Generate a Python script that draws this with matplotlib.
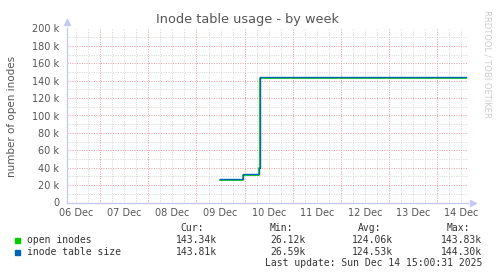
from datetime import datetime, timedelta

import matplotlib
matplotlib.use('Agg')
import matplotlib.pyplot as plt
from matplotlib.patches import Rectangle

# --- data ---
times = ['2025-12-09 11:30', '2025-12-09 23:00', '2025-12-10 07:15',
         '2025-12-10 07:45', '2025-12-11 06:00', '2025-12-12 10:00',
         '2025-12-13 08:00', '2025-12-14 14:30']
open_inodes = [26120, 32100, 39500, 143450, 143500, 143550, 143500, 143340]
table_size = [26590, 32600, 40000, 143900, 143950, 144000, 143900, 143810]

day_labels = ['06 Dec', '07 Dec', '08 Dec', '09 Dec', '10 Dec',
              '11 Dec', '12 Dec', '13 Dec', '14 Dec']
y_ticks = [0, 20000, 40000, 60000, 80000, 100000, 120000, 140000, 160000, 180000, 200000]
y_labels = ['0', '20 k', '40 k', '60 k', '80 k', '100 k', '120 k', '140 k', '160 k', '180 k', '200 k']

legend_rows = [
    ('open inodes', '#00cc00', ['143.34k', '26.12k', '124.06k', '143.83k']),
    ('inode table size', '#0066b3', ['143.81k', '26.59k', '124.53k', '144.30k']),
]
columns = ['Cur:', 'Min:', 'Avg:', 'Max:']

t = [datetime.strptime(s, '%Y-%m-%d %H:%M') for s in times]
start = datetime(2025, 12, 6, 7, 30)
end = datetime(2025, 12, 14, 15, 17)

W, H = 497, 276
fig = plt.figure(figsize=(W / 100, H / 100), dpi=100)
fig.patch.set_facecolor('white')


def px(x, y):
    return x / W, 1 - y / H


ax = fig.add_axes([67 / W, 1 - 202.5 / H, (468 - 67) / W, (202.5 - 28.5) / H])
ax.set_facecolor('white')
ax.set_xlim(start, end)
ax.set_ylim(0, 200000)

# grid
minor_c, major_c = '#d6d6d6', '#eba0a0'
dash = (0, (1.0, 1.4))
h = start.replace(hour=0, minute=0) + timedelta(hours=6)
while h < end:
    if h > start:
        ax.axvline(h, color=major_c if h.hour == 0 else minor_c, lw=0.72,
                   ls=dash, zorder=1)
    h += timedelta(hours=6)
for v in range(10000, 200001, 10000):
    ax.axhline(v, color=major_c if v % 20000 == 0 else minor_c, lw=0.72,
               ls=dash, zorder=1)

ax.plot(t, open_inodes, color='#00cc00', lw=1.2, drawstyle='steps-post', zorder=3)
ax.plot(t, table_size, color='#0066b3', lw=1.0, drawstyle='steps-post', zorder=4)

# axes
for side in ['top', 'right']:
    ax.spines[side].set_visible(False)
for side in ['left', 'bottom']:
    ax.spines[side].set_color('#c8c8f4')
    ax.spines[side].set_linewidth(1.0)
ax.plot([0], [1.035], marker='^', ms=5, color='#c8c8f4', transform=ax.transAxes, clip_on=False)
ax.plot([1.012], [0], marker='>', ms=5, color='#c8c8f4', transform=ax.transAxes, clip_on=False)

noon = [datetime(2025, 12, 6, 12) + timedelta(days=i) for i in range(len(day_labels))]
ax.set_xticks(noon)
ax.set_xticklabels(day_labels)
ax.set_yticks(y_ticks)
ax.set_yticklabels(y_labels)
ax.tick_params(axis='x', length=0, pad=4, labelsize=7, colors='#555555')
ax.tick_params(axis='y', length=0, pad=5.5, labelsize=7, colors='#555555')

fig.text(*px(248, 20), 'Inode table usage - by week', ha='center', va='center',
         fontsize=9.3, color='#555555')
fig.text(*px(12, 116), 'number of open inodes', rotation=90, ha='center',
         va='center', fontsize=7.5, color='#555555')
fig.text(*px(487, 10), 'RRDTOOL / TOBI OETIKER', rotation=270, ha='center',
         va='top', fontsize=6, color='#cccccc')

# legend
mono = 'DejaVu Sans Mono'
head_x = [204, 293, 381, 470]
val_x = [216.7, 305.7, 393.3, 482.3]
for name, x in zip(columns, head_x):
    fig.text(*px(x, 228), name, ha='right', va='center', fontsize=7,
             family=mono, color='#333333')
for i, (name, col, vals) in enumerate(legend_rows):
    y = 240 + 12 * i
    fig.patches.append(Rectangle(px(15, y + 2.5), 5 / W, 5 / H, color=col,
                                 transform=fig.transFigure))
    fig.text(*px(26.7, y), name, ha='left', va='center', fontsize=7,
             family=mono, color='#333333')
    for v, x in zip(vals, val_x):
        fig.text(*px(x, y), v, ha='right', va='center', fontsize=7,
                 family=mono, color='#333333')
fig.text(*px(482.3, 263), 'Last update: Sun Dec 14 15:00:31 2025', ha='right',
         va='center', fontsize=7, family=mono, color='#333333')

fig.savefig('out.png', dpi=100)
plt.close(fig)
